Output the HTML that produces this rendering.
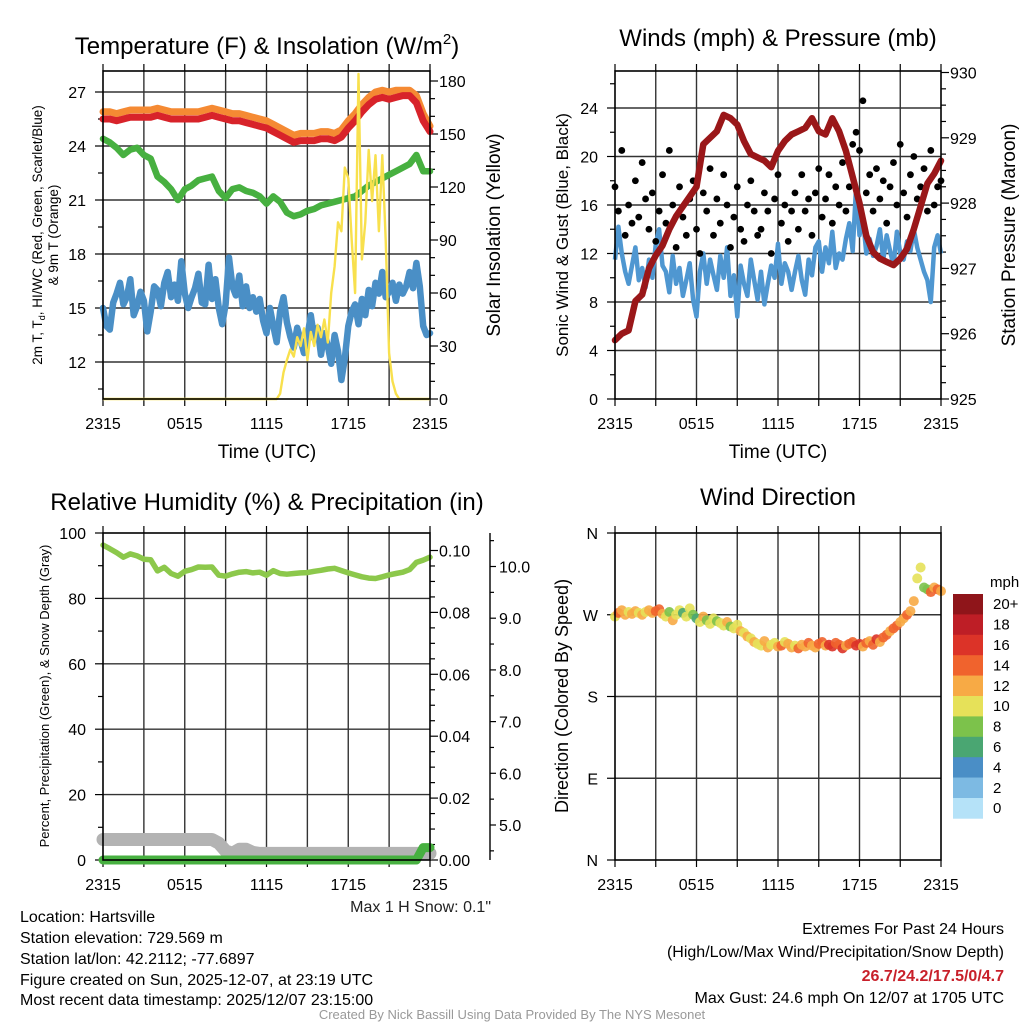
<!DOCTYPE html>
<html><head><meta charset="utf-8">
<style>
html,body{margin:0;padding:0;background:#fff;}
svg{display:block;font-family:"Liberation Sans",Arial,sans-serif;}
</style></head>
<body>
<svg id="fig" width="1024" height="1024" viewBox="0 0 1024 1024">
<rect x="0" y="0" width="1024" height="1024" fill="#fff"/>
<text x="267" y="54" font-size="24" text-anchor="middle">Temperature (F) &amp; Insolation (W/m<tspan font-size="15" dy="-10">2</tspan><tspan dy="10">)</tspan></text>
<text x="778" y="46" font-size="24" text-anchor="middle">Winds (mph) &amp; Pressure (mb)</text>
<text x="267" y="510" font-size="24" text-anchor="middle">Relative Humidity (%) &amp; Precipitation (in)</text>
<text x="778" y="505" font-size="24" text-anchor="middle">Wind Direction</text>

<text transform="translate(42,235) rotate(-90)" font-size="13.5" text-anchor="middle">2m T, T<tspan font-size="9" dy="3">d</tspan><tspan dy="-3">, HI/WC (Red, Green, Scarlet/Blue)</tspan></text>
<text transform="translate(58,235) rotate(-90)" font-size="13.5" text-anchor="middle">&amp; 9m T (Orange)</text>
<text transform="translate(500,235) rotate(-90)" font-size="19" text-anchor="middle">Solar Insolation (Yellow)</text>
<text transform="translate(568,235) rotate(-90)" font-size="17" text-anchor="middle">Sonic Wind &amp; Gust (Blue, Black)</text>
<text transform="translate(1015,235) rotate(-90)" font-size="19" text-anchor="middle">Station Pressure (Maroon)</text>
<text transform="translate(49,696) rotate(-90)" font-size="13" text-anchor="middle">Percent, Precipitation (Green), &amp; Snow Depth (Gray)</text>
<text transform="translate(568,696) rotate(-90)" font-size="18" text-anchor="middle">Direction (Colored By Speed)</text>

<text x="267" y="458" font-size="19" text-anchor="middle">Time (UTC)</text>
<text x="778" y="458" font-size="19" text-anchor="middle">Time (UTC)</text>

<text x="491" y="912" font-size="16" text-anchor="end" fill="#222">Max 1 H Snow: 0.1"</text>
<g font-size="16" fill="#000">
<text x="20" y="922">Location: Hartsville</text>
<text x="20" y="943">Station elevation: 729.569 m</text>
<text x="20" y="964">Station lat/lon: 42.2112; -77.6897</text>
<text x="20" y="985">Figure created on Sun, 2025-12-07, at 23:19 UTC</text>
<text x="20" y="1005">Most recent data timestamp: 2025/12/07 23:15:00</text>
</g>
<g font-size="16" text-anchor="end">
<text x="1004" y="934">Extremes For Past 24 Hours</text>
<text x="1004" y="957">(High/Low/Max Wind/Precipitation/Snow Depth)</text>
<text x="1004" y="981" font-weight="bold" fill="#c8202a">26.7/24.2/17.5/0/4.7</text>
<text x="1004" y="1003">Max Gust: 24.6 mph On 12/07 at 1705 UTC</text>
</g>
<text x="512" y="1019" font-size="13" fill="#999" text-anchor="middle">Created By Nick Bassill Using Data Provided By The NYS Mesonet</text>
<text x="990" y="587" font-size="15">mph</text>
</svg>
<script>
// ---------- data ----------
const timeTickLabels = ["2315","0515","1115","1715","2315"];
const tempLeftTicks = [12,15,18,21,24,27];
const solarTicks = [0,30,60,90,120,150,180];
const windTicks = [0,4,8,12,16,20,24];
const pressTicks = [925,926,927,928,929,930];
const rhTicks = [0,20,40,60,80,100];
const precipTicks = ["0.00","0.02","0.04","0.06","0.08","0.10"];
const snowTicks = ["5.0","6.0","7.0","8.0","9.0","10.0"];
const dirTickLabels = ["N","E","S","W","N"];
const speedBins = ["0","2","4","6","8","10","12","14","16","18","20+"];
const speedColors = ["#b5e2f8","#7dbae3","#4a8ec6","#4aa672","#7cc24b","#e6e159","#f7aa45","#f0632d","#dc3328","#be1e26","#8f151a"];

const tempRed = [25.5,25.5,25.4,25.5,25.6,25.6,25.6,25.6,25.7,25.6,25.5,25.5,25.5,25.5,25.5,25.6,25.7,25.6,25.5,25.4,25.4,25.3,25.2,25.1,25.0,24.8,24.6,24.4,24.2,24.3,24.3,24.3,24.4,24.4,24.3,24.5,25.0,25.4,25.9,26.3,26.6,26.7,26.6,26.7,26.8,26.8,26.4,25.4,24.8];
const temp9m = [25.9,25.9,25.8,25.9,26.0,26.0,26.0,26.0,26.1,26.0,25.9,25.9,25.9,25.9,25.9,26.0,26.1,26.0,25.9,25.8,25.8,25.7,25.6,25.5,25.4,25.2,25.0,24.8,24.6,24.7,24.7,24.7,24.8,24.8,24.7,24.9,25.4,25.8,26.3,26.7,27.0,27.1,27.0,27.1,27.1,27.1,26.8,25.8,25.1];
const dewpoint = [24.4,24.2,23.9,23.5,23.8,23.9,23.5,23.3,22.3,22.0,21.6,21.0,21.6,21.8,22.1,22.2,22.3,21.5,21.1,21.6,21.7,21.5,21.4,21.2,20.8,21.2,20.9,20.3,20.1,20.2,20.4,20.5,20.7,20.8,20.9,21.0,21.1,21.2,21.5,21.8,22.0,22.2,22.4,22.6,22.8,23.0,23.5,22.6,22.6];
const windChill = [15.0,14.0,13.8,15.3,15.8,16.4,15.2,15.6,16.6,14.6,15.1,15.9,15.4,13.7,14.8,16.2,16.0,15.1,16.4,17.0,15.6,16.3,15.4,17.6,15.8,15.0,15.6,16.1,16.9,15.3,15.2,17.4,15.5,16.6,15.0,14.1,15.2,17.8,16.2,15.7,16.8,15.1,16.2,15.0,15.6,14.8,15.5,14.3,13.6,15.0,14.0,13.1,14.8,15.6,14.2,13.4,12.8,13.9,13.2,12.5,13.4,14.6,13.3,13.9,12.4,13.6,12.9,11.9,13.5,12.6,11.0,12.2,14.0,14.8,15.2,14.1,15.5,14.6,16.0,15.1,16.4,15.8,17.0,15.6,15.9,16.4,15.4,16.3,15.8,16.2,17.0,16.1,17.5,16.2,14.0,13.5,13.6];
const solar = [0,0,0,0,0,0,0,0,0,0,0,0,0,0,0,0,0,0,0,0,0,0,0,0,0,0,0,0,0,0,0,0,0,0,0,0,0,0,0,0,0,0,0,0,0,0,0,0,0,0,0,0,3,15,22,28,24,35,30,40,22,38,30,42,35,45,32,60,75,100,95,131,125,90,60,184,79,100,141,112,138,95,138,90,26,10,3,0,0,0,0,0,0,0,0,0,0];

const pressure = [925.9,926.0,926.05,926.5,926.6,927.0,927.2,927.35,927.6,927.8,927.95,928.1,928.25,928.9,929.0,929.1,929.35,929.3,929.2,928.95,928.75,928.7,928.65,928.55,928.8,928.95,929.05,929.1,929.15,929.3,929.1,929.05,929.3,929.1,928.8,928.4,928.0,927.5,927.25,927.15,927.1,927.05,927.15,927.3,927.6,927.95,928.3,928.45,928.65];
const windSpeed = [11.5,14.2,12.0,10.5,9.5,11.0,12.5,9.8,10.8,9.2,11.5,10.0,12.8,14.0,11.0,10.5,8.8,11.8,9.5,10.8,8.5,9.8,11.2,8.2,6.8,10.5,12.0,9.5,11.5,10.2,9.0,11.8,10.0,12.5,8.5,10.2,6.8,11.0,9.5,8.5,11.5,9.8,8.2,10.5,7.8,9.5,11.0,10.0,12.8,9.5,11.2,10.5,9.0,10.5,11.8,9.8,8.6,11.5,10.2,12.5,13.0,10.5,12.5,11.2,13.8,10.8,12.0,11.5,13.2,14.5,12.2,17.5,13.5,15.0,12.0,13.2,11.8,12.6,14.0,11.5,13.5,12.2,11.0,13.8,12.0,11.5,13.0,12.2,14.0,12.5,11.5,10.5,9.8,8.0,12.5,13.5,12.0];
const windGust = [17.5,15.5,20.5,13.5,16.0,14.5,18.0,15.0,19.5,16.5,14.0,17.0,13.0,15.5,18.5,14.5,20.5,16.0,12.5,17.5,15.0,13.5,16.5,18.0,14.0,12.0,17.0,15.5,19.0,13.5,16.5,14.5,18.5,16.0,12.5,15.0,17.5,14.0,13.0,16.0,18.0,15.5,13.5,14.0,17.0,15.5,12.0,16.5,18.5,14.5,16.0,13.0,15.5,17.0,14.0,18.5,15.5,16.5,13.5,17.0,19.0,15.0,16.5,18.5,14.5,17.5,16.0,19.5,15.5,17.5,21.0,22.0,20.5,24.6,17.0,18.5,15.5,19.0,16.5,18.0,14.5,17.5,19.5,16.0,21.0,17.0,15.0,18.5,20.0,16.5,17.5,19.0,15.5,20.5,16.0,17.5,18.0];

const relHumidity = [96.3,95.2,94.0,92.6,93.6,93.0,92.0,91.8,88.4,89.5,87.6,86.8,88.3,88.8,89.6,89.5,89.6,87.1,86.8,87.5,88.0,88.2,87.8,88.0,87.1,88.5,87.6,87.4,87.6,87.8,87.9,88.3,88.6,89.0,89.2,88.5,87.8,87.2,86.6,86.2,86.1,86.6,87.2,87.6,88.0,88.8,91.0,91.7,92.6];
const snowDepth = [4.72,4.72,4.72,4.72,4.72,4.72,4.72,4.72,4.72,4.72,4.72,4.72,4.72,4.72,4.72,4.72,4.72,4.65,4.5,4.45,4.53,4.53,4.47,4.45,4.45,4.45,4.45,4.45,4.45,4.45,4.45,4.45,4.45,4.45,4.45,4.45,4.45,4.45,4.45,4.45,4.45,4.45,4.45,4.45,4.45,4.45,4.45,4.45,4.45];
const precip = [0,0,0,0,0,0,0,0,0,0,0,0,0,0,0,0,0,0,0,0,0,0,0,0,0,0,0,0,0,0,0,0,0,0,0,0,0,0,0,0,0,0,0,0,0,0,0,0.004,0.004];
const windDir = [268,272,275,270,273,271,274,272,270,273,275,272,274,276,271,268,273,264,270,275,272,268,277,270,266,262,268,264,260,266,263,261,258,262,257,255,259,252,250,246,244,240,238,236,241,234,237,239,235,236,240,238,234,236,233,237,235,239,236,234,238,240,236,237,235,239,237,233,236,238,240,236,238,235,239,241,237,243,240,245,248,252,255,258,262,266,270,274,285,310,322,300,298,295,300,298,296];
const dirSpeed = [11,14,12,13,10,12,13,11,12,10,13,12,14,15,12,11,9,12,10,11,7,10,11,9,6,10,12,9,11,10,8,11,10,12,9,10,11,12,10,13,11,12,10,11,13,12,10,11,12,14,11,13,12,11,14,13,12,15,13,12,14,15,13,16,17,15,14,16,13,15,14,17,16,13,15,12,14,16,13,15,14,13,15,14,12,13,14,13,12,10,11,9,8,14,13,15,12];

// ---------- drawing ----------
const NS = "http://www.w3.org/2000/svg";
const svg = document.getElementById("fig");
function mk(tag, attrs, parent){
  const e = document.createElementNS(NS, tag);
  for (const k in attrs) e.setAttribute(k, attrs[k]);
  (parent || svg).appendChild(e);
  return e;
}
function tOf(arr, i){ return i / (arr.length - 1) * 24; }
function linePath(arr, xs, ys){
  let d = "";
  arr.forEach((v,i)=>{ d += (i? "L":"M") + xs(tOf(arr,i)).toFixed(1) + "," + ys(v).toFixed(1); });
  return d;
}
function panel(name, x0, x1, y0, y1){
  const g = mk("g", {});
  
  
  const xs = t => x0 + t / 24 * (x1 - x0);
  for (let h = 0; h <= 24; h += 3){
    const x = xs(h);
    if (h > 0 && h < 24){
      const gl = mk("line", {x1:x, x2:x, y1:y0, y2:y1, stroke:"#333", "stroke-width":1.4}, g);
      
      
    }
    const tb = mk("line", {x1:x, x2:x, y1:y1, y2:y1+7, stroke:"#000", "stroke-width":1.2}, g);
    
    
    const tt = mk("line", {x1:x, x2:x, y1:y0, y2:y0-7, stroke:"#000", "stroke-width":1.2}, g);
    
    
  }
  timeTickLabels.forEach((lab, i)=>{
    const t = mk("text", {x: xs(i*6), y: y1 + 30, "font-size":16, "text-anchor":"middle"}, g);
    t.textContent = lab;
    
    
  });
  return {g, xs, x0, x1, y0, y1};
}
function hgrid(P, y){
  const l = mk("line", {x1:P.x0, x2:P.x1, y1:y, y2:y, stroke:"#333", "stroke-width":1.4}, P.g);
  
  
}
function leftTick(P, y, lab, len, xAxis){
  const xa = xAxis === undefined ? P.x0 : xAxis;
  const l = mk("line", {x1:xa-len, x2:xa, y1:y, y2:y, stroke:"#000", "stroke-width":1.2}, P.g);
  
  
  if (lab !== null){
    const t = mk("text", {x: xa - 17, y: y + 6, "font-size":16, "text-anchor":"end"}, P.g);
    t.textContent = lab;
    
    
  }
}
function rightTick(P, y, lab, len, xAxis){
  const xa = xAxis === undefined ? P.x1 : xAxis;
  const l = mk("line", {x1:xa, x2:xa+len, y1:y, y2:y, stroke:"#000", "stroke-width":1.2}, P.g);
  
  
  if (lab !== null){
    const t = mk("text", {x: xa + 9, y: y + 6, "font-size":16, "text-anchor":"start"}, P.g);
    t.textContent = lab;
    
    
  }
}
function frame(P){
  const r = mk("rect", {x:P.x0, y:P.y0, width:P.x1-P.x0, height:P.y1-P.y0, fill:"none", stroke:"#000", "stroke-width":1.6});
  
  
}

// ===== Panel 1 =====
const P1 = panel("temperature-panel", 103, 430, 71, 399);
const yT = v => 92 + (27 - v) * 18;
const yS = v => 399 - v * 53 / 30;
tempLeftTicks.forEach(v => { hgrid(P1, yT(v)); leftTick(P1, yT(v), String(v), 8); });
for (let v = 10.5; v <= 28.5; v += 3) if (yT(v) > 71 && yT(v) < 399) leftTick(P1, yT(v), null, 5);
for (let v = 0; v <= 180; v += 10) rightTick(P1, yS(v), v % 30 === 0 ? String(v) : null, v % 30 === 0 ? 8 : 5);
[["wind-chill-line", windChill, "#4a8fc6", 6.5],["dewpoint-line", dewpoint, "#47b040", 6.5],["temp-9m-line", temp9m, "#f58a33", 7],["temp-2m-line", tempRed, "#d8232a", 7]].forEach(s => {
  const p = mk("path", {d: linePath(s[1], P1.xs, yT), fill:"none", stroke:s[2], "stroke-width":s[3], "stroke-linejoin":"round", "stroke-linecap":"round"}, P1.g);
  
  
});
const solarPath = mk("path", {d: linePath(solar, P1.xs, yS), fill:"none", stroke:"#f8e04d", "stroke-width":2.4, "stroke-linejoin":"round"}, P1.g);


frame(P1);

// ===== Panel 2 =====
const P2 = panel("winds-panel", 615, 941, 71, 399);
const yW = v => 399 - v * 12.125;
const yP = p => 399 - (p - 925) * 65.3;
windTicks.forEach(v => { if (v > 0) hgrid(P2, yW(v)); leftTick(P2, yW(v), String(v), 8); });
for (let v = 2; v <= 26; v += 4) leftTick(P2, yW(v), null, 5);
for (let p = 925; p <= 930.01; p += 0.25){
  const major = Math.abs(p - Math.round(p)) < 0.01;
  rightTick(P2, yP(p), major ? String(Math.round(p)) : null, major ? 8 : 5);
}
const windPath = mk("path", {d: linePath(windSpeed, P2.xs, yW), fill:"none", stroke:"#4f97d1", "stroke-width":4.5, "stroke-linejoin":"round"}, P2.g);


windGust.forEach((v, i) => {
  const c = mk("circle", {cx: P2.xs(tOf(windGust, i)), cy: yW(v), r: 3.4, fill:"#000"}, P2.g);
  
  
});
const pressPath = mk("path", {d: linePath(pressure, P2.xs, yP), fill:"none", stroke:"#9a1719", "stroke-width":6.5, "stroke-linejoin":"round", "stroke-linecap":"round"}, P2.g);


frame(P2);

// ===== Panel 3 =====
const P3 = panel("humidity-panel", 103, 430, 533, 860);
const yR = v => 860 - v * 3.27;
const yPr = v => 860 - v * 3095;
const ySn = d => 825 - (d - 5) * 51.7;
rhTicks.forEach(v => { if (v > 0 && v < 100) hgrid(P3, yR(v)); leftTick(P3, yR(v), String(v), 8); });
for (let v = 10; v < 100; v += 20) leftTick(P3, yR(v), null, 5);
precipTicks.forEach(s => rightTick(P3, yPr(parseFloat(s)), s, 8));
for (let v = 0.005; v < 0.1; v += 0.005) if (Math.abs(v*50 - Math.round(v*50)) > 0.01) rightTick(P3, yPr(v), null, 5);
const snowAxis = mk("line", {x1:490, x2:490, y1:533, y2:860, stroke:"#000", "stroke-width":1.4}, P3.g);


snowTicks.forEach(s => rightTick(P3, ySn(parseFloat(s)), s, 6, 490));
for (let d = 4.5; d <= 10.5; d += 1) rightTick(P3, ySn(d), null, 4, 490);
const snowPath = mk("path", {d: linePath(snowDepth, P3.xs, ySn), fill:"none", stroke:"#b3b3b3", "stroke-width":13, "stroke-linejoin":"round", "stroke-linecap":"round"}, P3.g);


const precipPath = mk("path", {d: linePath(precip, P3.xs, yPr), fill:"none", stroke:"#47b040", "stroke-width":9, "stroke-linejoin":"round", "stroke-linecap":"round"}, P3.g);


const rhPath = mk("path", {d: linePath(relHumidity, P3.xs, yR), fill:"none", stroke:"#8cc84b", "stroke-width":5.5, "stroke-linejoin":"round", "stroke-linecap":"round"}, P3.g);


frame(P3);

// ===== Panel 4 =====
const P4 = panel("wind-direction-panel", 615, 941, 533, 860);
const yD = d => 860 - d * 327 / 360;
dirTickLabels.forEach((lab, i) => { const y = yD(i * 90); if (i > 0 && i < 4) hgrid(P4, y); leftTick(P4, y, lab, 8); });
function speedColor(v){ return speedColors[Math.min(10, Math.max(0, Math.floor(v / 2)))]; }
windDir.forEach((d, i) => {
  const c = mk("circle", {cx: P4.xs(tOf(windDir, i)), cy: yD(d), r: 5, fill: speedColor(dirSpeed[Math.min(i, dirSpeed.length-1)]), "fill-opacity":0.9}, P4.g);
  
  
});
frame(P4);

// colorbar
const cb = mk("g", {});


const cbTop = 594, cbH = 20.4;
speedBins.forEach((lab, i) => {
  const k = speedBins.length - 1 - i;
  const r = mk("rect", {x:953, y: cbTop + i * cbH, width:30, height:cbH + 0.3, fill: speedColors[k]}, cb);
  
  
  const t = mk("text", {x:993, y: cbTop + i * cbH + cbH/2 + 5, "font-size":15}, cb);
  t.textContent = speedBins[k];
  
  
});
</script>
</body></html>
